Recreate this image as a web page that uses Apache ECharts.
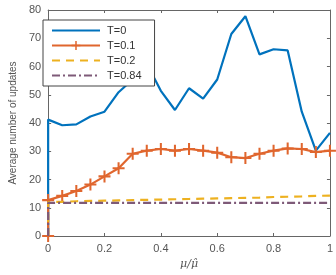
<!DOCTYPE html>
<html><head><meta charset="utf-8">
<script src="https://cdn.jsdelivr.net/npm/echarts@6/dist/echarts.min.js"></script>
<style>html,body{margin:0;padding:0;background:#fff}#c{width:336px;height:275px}</style>
</head><body><div id="c"></div>
<script>
const xs = [0, 0, 0.05, 0.1, 0.15, 0.2, 0.25, 0.3, 0.35, 0.4, 0.45, 0.5, 0.55, 0.6, 0.65, 0.7, 0.75, 0.8, 0.85, 0.9, 0.95, 1.0];
const t0 = [0, 41.2, 39.2, 39.5, 42.3, 44.0, 50.9, 55.4, 61.0, 51.4, 44.6, 52.3, 48.6, 55.4, 71.5, 77.8, 64.3, 66.1, 65.7, 44.0, 30.2, 36.5];
const t01 = [0, 12.7, 14.2, 15.9, 18.2, 21.1, 24.0, 29.1, 30.2, 30.8, 30.2, 30.8, 30.2, 29.5, 27.9, 27.6, 29.1, 30.2, 31.0, 30.8, 29.7, 30.2];
const t02 = [0, 12.0, 12.1, 12.3, 12.4, 12.5, 12.6, 12.7, 12.8, 12.9, 13.0, 13.1, 13.2, 13.3, 13.4, 13.5, 13.6, 13.8, 13.9, 14.0, 14.2, 14.3];
const t084 = [0, 11.7, 11.7, 11.7, 11.7, 11.7, 11.7, 11.7, 11.7, 11.7, 11.7, 11.7, 11.7, 11.7, 11.7, 11.7, 11.7, 11.7, 11.7, 11.7, 11.7, 11.7];
const names = ['T=0', 'T=0.1', 'T=0.2', 'T=0.84'];
const xTicks = ['0', '0.2', '0.4', '0.6', '0.8', '1'];

const pair = ys => xs.map((x, i) => [x, ys[i]]);
const plus = 'path://M-1.7,-10 L1.7,-10 L1.7,-1.7 L10,-1.7 L10,1.7 L1.7,1.7 L1.7,10 L-1.7,10 L-1.7,1.7 L-10,1.7 L-10,-1.7 L-1.7,-1.7 Z';
const axCol = '#666';
const labCol = '#555';
const font = 'Liberation Sans';
const hidden = {opacity: 0};

const chart = echarts.init(document.getElementById('c'), null, {renderer: 'canvas'});
chart.setOption({
  animation: false,
  backgroundColor: '#fff',
  grid: {left: 33, right: 6, top: 10, bottom: 32, containLabel: false},
  xAxis: [{
    type: 'value', min: 0, max: 1, interval: 0.2,
    axisLine: {lineStyle: {color: axCol, width: 1}},
    axisTick: {inside: true, length: 3, lineStyle: {color: axCol}},
    axisLabel: {color: labCol, fontSize: 11, fontFamily: font, margin: 7,
      formatter: v => { const i = Math.round(v / 0.2); return xTicks[i] !== undefined ? xTicks[i] : ''; }},
    splitLine: {show: false},
    name: 'μ/μ̂', nameLocation: 'middle', nameGap: 23,
    nameTextStyle: {color: labCol, fontSize: 11, fontStyle: 'italic', fontFamily: 'DejaVu Serif'}
  }, {
    type: 'value', min: 0, max: 1, interval: 0.2, position: 'top',
    axisLine: {show: true, onZero: false, lineStyle: {color: axCol, width: 1}},
    axisTick: {show: true, inside: true, length: 3, lineStyle: {color: axCol}},
    axisLabel: {show: false}, splitLine: {show: false}
  }],
  yAxis: [{
    type: 'value', min: 0, max: 80, interval: 10,
    axisLine: {show: true, lineStyle: {color: axCol, width: 1}},
    axisTick: {show: true, inside: true, length: 3, lineStyle: {color: axCol}},
    axisLabel: {color: labCol, fontSize: 11, fontFamily: font, margin: 7},
    splitLine: {show: false},
    name: 'Average number of updates', nameLocation: 'middle', nameGap: 26,
    nameTextStyle: {color: labCol, fontSize: 10, fontFamily: font}
  }, {
    type: 'value', min: 0, max: 80, interval: 10, position: 'right',
    axisLine: {show: true, onZero: false, lineStyle: {color: axCol, width: 1}},
    axisTick: {show: true, inside: true, length: 3, lineStyle: {color: axCol}},
    axisLabel: {show: false}, splitLine: {show: false}
  }],
  legend: {
    orient: 'vertical', left: 43, top: 20,
    data: [
      {name: names[0], itemStyle: hidden},
      {name: names[1]},
      {name: names[2], itemStyle: hidden},
      {name: names[3], itemStyle: hidden}
    ],
    backgroundColor: '#fff', borderColor: '#444', borderWidth: 1,
    padding: [5, 13, 5, 8], itemGap: 4, itemWidth: 48, itemHeight: 11,
    textStyle: {color: '#333', fontSize: 11, fontFamily: font, padding: [0, 0, 0, 2]}
  },
  series: [
    {name: names[0], type: 'line', data: pair(t0), symbol: 'none', color: '#0072BD',
      lineStyle: {width: 2.2}, z: 2},
    {name: names[1], type: 'line', data: pair(t01), symbol: plus, symbolSize: 12, color: '#E0662E',
      itemStyle: {color: '#E0662E'}, lineStyle: {width: 2.2, color: '#E0662E'}, z: 3},
    {name: names[2], type: 'line', data: pair(t02), symbol: 'none', color: '#EDB120',
      lineStyle: {width: 2.2, type: [8, 6]}, z: 4},
    {name: names[3], type: 'line', data: pair(t084), symbol: 'none', color: '#7E5A78',
      lineStyle: {width: 2.2, type: [8, 3, 2, 3]}, z: 5}
  ]
});
</script></body></html>
